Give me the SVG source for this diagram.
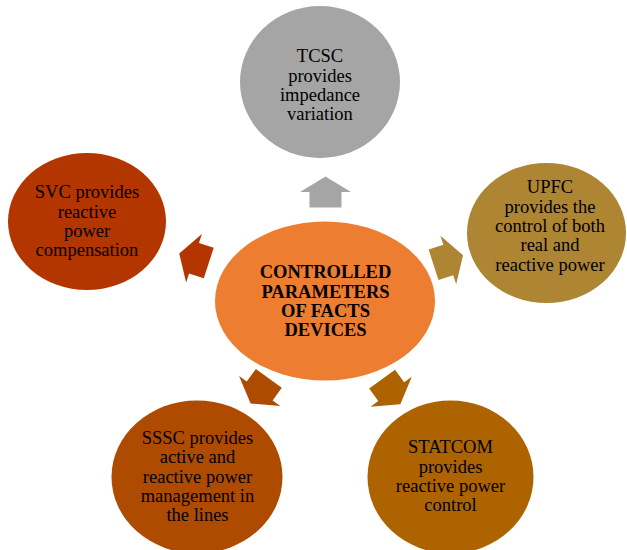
<svg xmlns="http://www.w3.org/2000/svg" xmlns:xlink="http://www.w3.org/1999/xlink" width="627" height="550" viewBox="0 0 627 550">
  <style>
    .lbl { font-family: "Liberation Serif", "Times New Roman", serif; font-size: 18.5px; fill: #000; text-anchor: middle; }
    .hub { font-weight: bold; }
  </style>
  <defs>
    <!-- block arrow pointing along +x, origin at the base of the head -->
    <path id="arrow" d="M15.5,0 L0,-25.5 L0,-16 L-15.5,-16 L-15.5,16 L0,16 L0,25.5 Z"/>
  </defs>
  <rect width="627" height="550" fill="#fff"/>

  <g id="connectors">
    <use xlink:href="#arrow" transform="translate(325.5,192) rotate(-90)" fill="#A5A5A5"/>
    <use xlink:href="#arrow" transform="translate(448.3,260) rotate(-18)" fill="#AE8532"/>
    <use xlink:href="#arrow" transform="translate(391.2,391.7) rotate(54)" fill="#AD6400"/>
    <use xlink:href="#arrow" transform="translate(259.7,391) rotate(126)" fill="#AF4B00"/>
    <use xlink:href="#arrow" transform="translate(194,258.3) rotate(198)" fill="#B33600"/>
  </g>

  <g id="hub">
    <ellipse cx="325" cy="301" rx="110" ry="79.5" fill="#ED7D31"/>
    <text class="lbl hub" x="325.5" y="278.3">CONTROLLED</text>
    <text class="lbl hub" x="325.5" y="297.6">PARAMETERS</text>
    <text class="lbl hub" x="325.5" y="316.9">OF FACTS</text>
    <text class="lbl hub" x="325.5" y="336.2">DEVICES</text>
  </g>

  <g id="tcsc">
    <ellipse cx="320" cy="82" rx="80" ry="76" fill="#A5A5A5"/>
    <text class="lbl" x="320" y="62">TCSC</text>
    <text class="lbl" x="320" y="81.5">provides</text>
    <text class="lbl" x="320" y="101">impedance</text>
    <text class="lbl" x="320" y="120">variation</text>
  </g>

  <g id="upfc">
    <ellipse cx="546.5" cy="233" rx="79.5" ry="70" fill="#AE8532"/>
    <text class="lbl" x="550" y="193.3">UPFC</text>
    <text class="lbl" x="550" y="212.6">provides the</text>
    <text class="lbl" x="550" y="231.9">control of both</text>
    <text class="lbl" x="550" y="251.2">real and</text>
    <text class="lbl" x="550" y="270.5">reactive power</text>
  </g>

  <g id="statcom">
    <ellipse cx="450.5" cy="477" rx="83" ry="76.5" fill="#AD6400"/>
    <text class="lbl" x="450.5" y="453.3">STATCOM</text>
    <text class="lbl" x="450.5" y="472.6">provides</text>
    <text class="lbl" x="450.5" y="491.9">reactive power</text>
    <text class="lbl" x="450.5" y="511.2">control</text>
  </g>

  <g id="sssc">
    <ellipse cx="197" cy="477" rx="85.5" ry="76.5" fill="#AF4B00"/>
    <text class="lbl" x="197.5" y="444">SSSC provides</text>
    <text class="lbl" x="197.5" y="463.3">active and</text>
    <text class="lbl" x="197.5" y="482.6">reactive power</text>
    <text class="lbl" x="197.5" y="501.9">management in</text>
    <text class="lbl" x="197.5" y="521.2">the lines</text>
  </g>

  <g id="svc">
    <ellipse cx="87" cy="221.5" rx="79" ry="68.5" fill="#B33600"/>
    <text class="lbl" x="87" y="198.3">SVC provides</text>
    <text class="lbl" x="87" y="217.5">reactive</text>
    <text class="lbl" x="87" y="236.7">power</text>
    <text class="lbl" x="87" y="255.9">compensation</text>
  </g>
</svg>
